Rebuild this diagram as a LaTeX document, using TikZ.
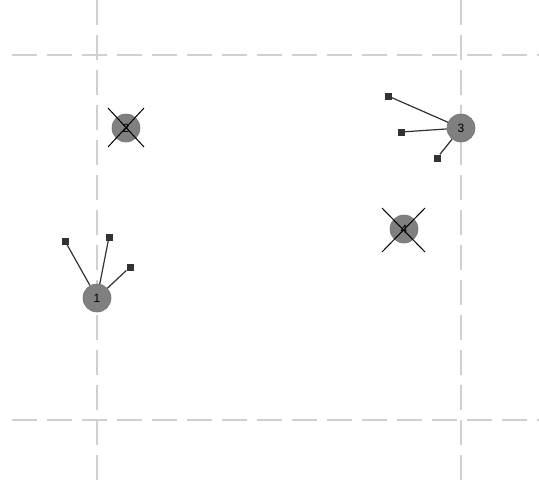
\documentclass[tikz,border=0pt]{standalone}
\usepackage{fontspec}
\setmainfont{Liberation Sans}
\usetikzlibrary{calc}
\definecolor{gridLine}{RGB}{208,208,208}
\definecolor{siteFill}{RGB}{128,128,128}
\definecolor{markDark}{RGB}{50,50,50}
\tikzset{
  gridRule/.style={draw=gridLine, line width=1.1pt, dash pattern=on 25pt off 10pt},
  siteNode/.style={circle, fill=siteFill, draw=siteFill!90!black, line width=0.6pt, minimum size=28pt, inner sep=0pt, font=\fontsize{12pt}{12pt}\selectfont},
  tipNode/.style={rectangle, fill=markDark, minimum size=7pt, inner sep=0pt},
  tipLink/.style={draw=markDark, line width=1.2pt},
  crossLine/.style={draw=black, line width=1pt}
}
\begin{document}
\begin{tikzpicture}[x=1pt, y=-1pt]
  \useasboundingbox[fill=white] (0,0) rectangle (539,483);

  % grid
  \draw[gridRule] (12,55) -- (539,55);
  \draw[gridRule] (12,420) -- (539,420);
  \draw[gridRule] (97,0) -- (97,483);
  \draw[gridRule] (461,0) -- (461,483);

  % site 1
  \node[siteNode] (site1) at (97,298) {1};
  \node[tipNode] (tip1a) at (65,241) {};
  \node[tipNode] (tip1b) at (109,237) {};
  \node[tipNode] (tip1c) at (130,267) {};
  \draw[tipLink] (tip1a) -- (site1);
  \draw[tipLink] (tip1b) -- (site1);
  \draw[tipLink] (tip1c) -- (site1);

  % site 2 (crossed out)
  \node[siteNode] (site2) at (126,128) {2};
  \coordinate (x2a) at (108,108);
  \coordinate (x2b) at (144,147);
  \coordinate (x2c) at (108,147);
  \coordinate (x2d) at (144,108);
  \draw[crossLine] (x2a) -- (x2b);
  \draw[crossLine] (x2c) -- (x2d);

  % site 3
  \node[siteNode] (site3) at (461,128) {3};
  \node[tipNode] (tip3a) at (388,96) {};
  \node[tipNode] (tip3b) at (401,132) {};
  \node[tipNode] (tip3c) at (437,158) {};
  \draw[tipLink] (tip3a) -- (site3);
  \draw[tipLink] (tip3b) -- (site3);
  \draw[tipLink] (tip3c) -- (site3);

  % site 4 (crossed out)
  \node[siteNode] (site4) at (404,229) {4};
  \coordinate (x4a) at (382,208);
  \coordinate (x4b) at (425,252);
  \coordinate (x4c) at (382,252);
  \coordinate (x4d) at (425,208);
  \draw[crossLine] (x4a) -- (x4b);
  \draw[crossLine] (x4c) -- (x4d);
\end{tikzpicture}
\end{document}
